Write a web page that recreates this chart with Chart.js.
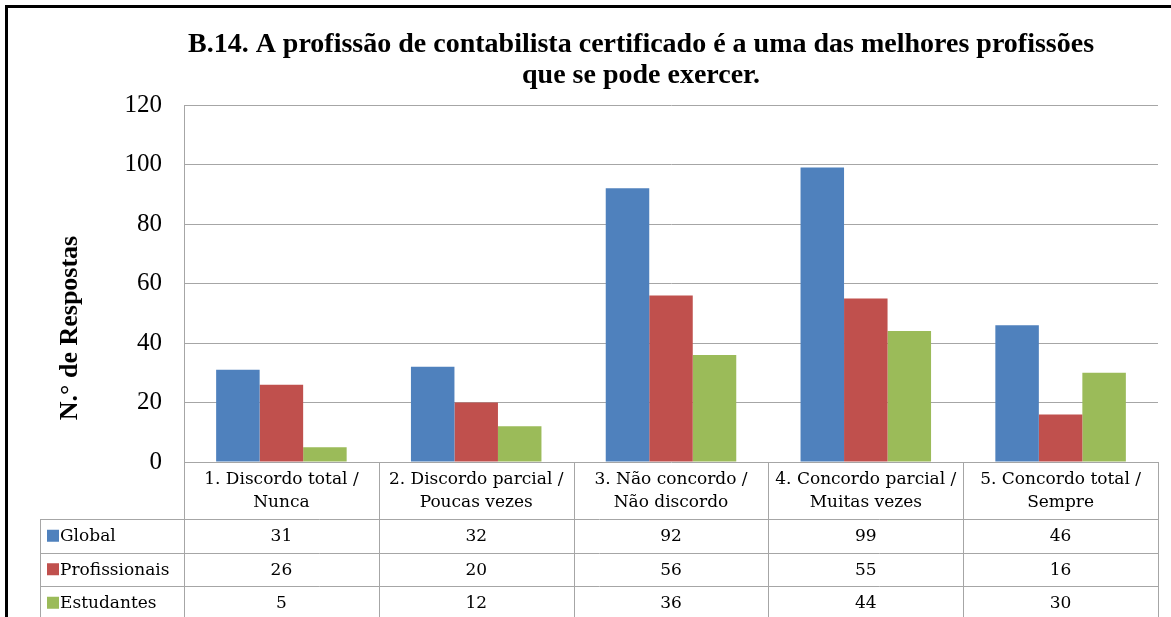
<!DOCTYPE html>
<html>
<head>
<meta charset="utf-8">
<script src="https://cdn.jsdelivr.net/npm/chart.js@4.4.1/dist/chart.umd.min.js"></script>
<style>
    html, body { margin: 0; padding: 0; background: #fff; }
    #wrap { width: 1171px; height: 617px; position: relative; }
</style>
</head>
<body>
<div id="wrap"><canvas id="chartB14"></canvas></div>
<script>
// Dados do gráfico B.14
const categorias = [
    ['1. Discordo total /', 'Nunca'],
    ['2. Discordo parcial /', 'Poucas vezes'],
    ['3. Não concordo /', 'Não discordo'],
    ['4. Concordo parcial /', 'Muitas vezes'],
    ['5. Concordo total /', 'Sempre']
];
const series = ['Global', 'Profissionais', 'Estudantes'];
const global = [31, 32, 92, 99, 46];
const profissionais = [26, 20, 56, 55, 16];
const estudantes = [5, 12, 36, 44, 30];
const yTicks = [0, 20, 40, 60, 80, 100, 120];

const titulo = [
    'B.14. A profissão de contabilista certificado é a uma das melhores profissões',
    'que se pode exercer.'
];
const tituloY = 'N.° de Respostas';

const cores = ['#4F81BD', '#C0504D', '#9BBB59'];
const corGrelha = '#A6A6A6';
const serif = '"Liberation Serif", "Times New Roman", serif';
const serifTabela = '"DejaVu Serif", serif';

// Plugin: moldura, títulos e tabela de dados
const tabelaPlugin = {
    id: 'tabelaDados',
    beforeDraw(chart) {
        const ctx = chart.ctx;
        ctx.save();
        ctx.fillStyle = '#fff';
        ctx.fillRect(0, 0, chart.width, chart.height);
        ctx.restore();
    },
    afterDraw(chart) {
        const ctx = chart.ctx;
        const area = chart.chartArea;
        const x = chart.scales.x;
        const valores = [global, profissionais, estudantes];

        ctx.save();

        // Moldura exterior
        ctx.strokeStyle = '#000';
        ctx.lineWidth = 3;
        ctx.beginPath();
        ctx.moveTo(6.5, chart.height);
        ctx.lineTo(6.5, 6.5);
        ctx.lineTo(chart.width, 6.5);
        ctx.stroke();

        // Título
        ctx.fillStyle = '#000';
        ctx.textAlign = 'center';
        ctx.textBaseline = 'middle';
        ctx.font = 'bold 28px ' + serif;
        ctx.fillText(titulo[0], 641, 45);
        ctx.fillText(titulo[1], 641, 76);

        // Título do eixo Y
        ctx.save();
        ctx.translate(70, 328);
        ctx.rotate(-Math.PI / 2);
        ctx.font = 'bold 26px ' + serif;
        ctx.fillText(tituloY, 0, 0);
        ctx.restore();

        // Tabela
        const passo = x.getPixelForValue(1) - x.getPixelForValue(0);
        const limites = categorias.map((c, i) => x.getPixelForValue(i) - passo / 2);
        limites.push(area.right);
        const topo = area.bottom;
        const cab = 519;
        const alturaLinha = 33.5;
        const esq = 40;
        const fundo = chart.height;

        ctx.strokeStyle = corGrelha;
        ctx.lineWidth = 1;
        ctx.beginPath();
        limites.forEach(lx => {
            const px = Math.round(lx) + 0.5;
            ctx.moveTo(px, topo);
            ctx.lineTo(px, fundo);
        });
        ctx.moveTo(esq + 0.5, cab);
        ctx.lineTo(esq + 0.5, fundo);
        for (let r = 0; r < 3; r++) {
            const py = Math.round(cab + r * alturaLinha) + 0.5;
            ctx.moveTo(esq, py);
            ctx.lineTo(Math.round(area.right) + 1, py);
        }
        ctx.stroke();

        ctx.font = '17px ' + serifTabela;
        ctx.fillStyle = '#000';
        ctx.textAlign = 'center';
        categorias.forEach((linhas, i) => {
            const cx = x.getPixelForValue(i);
            ctx.fillText(linhas[0], cx, 480);
            ctx.fillText(linhas[1], cx, 503);
        });

        series.forEach((nome, s) => {
            const cy = cab + s * alturaLinha + alturaLinha / 2;
            ctx.fillStyle = cores[s];
            ctx.fillRect(47, cy - 6, 12, 12);
            ctx.fillStyle = '#000';
            ctx.textAlign = 'left';
            ctx.fillText(nome, 60, cy + 1);
            ctx.textAlign = 'center';
            valores[s].forEach((v, i) => {
                ctx.fillText(String(v), x.getPixelForValue(i), cy + 1);
            });
        });

        ctx.restore();
    }
};

const dadosSeries = [global, profissionais, estudantes];

new Chart(document.getElementById('chartB14'), {
    type: 'bar',
    data: {
        labels: categorias.map(c => c.join(' ')),
        datasets: series.map((nome, s) => ({
            label: nome,
            data: dadosSeries[s],
            backgroundColor: cores[s],
            borderWidth: 0,
            barPercentage: 1,
            categoryPercentage: 0.67
        }))
    },
    options: {
        responsive: true,
        maintainAspectRatio: false,
        animation: false,
        layout: {
            padding: { top: 105, right: 13, bottom: 155, left: 0 }
        },
        plugins: {
            legend: { display: false },
            tooltip: { enabled: false },
            title: { display: false }
        },
        scales: {
            x: {
                display: false
            },
            y: {
                min: 0,
                max: 120,
                afterBuildTicks(scale) {
                    scale.ticks = yTicks.map(v => ({ value: v }));
                },
                afterFit(scale) {
                    scale.width = 184;
                },
                grid: {
                    color: corGrelha,
                    drawTicks: false
                },
                border: {
                    color: corGrelha
                },
                ticks: {
                    padding: 22,
                    color: '#000',
                    font: { family: serif, size: 25 }
                }
            }
        }
    },
    plugins: [tabelaPlugin]
});
</script>
</body>
</html>
